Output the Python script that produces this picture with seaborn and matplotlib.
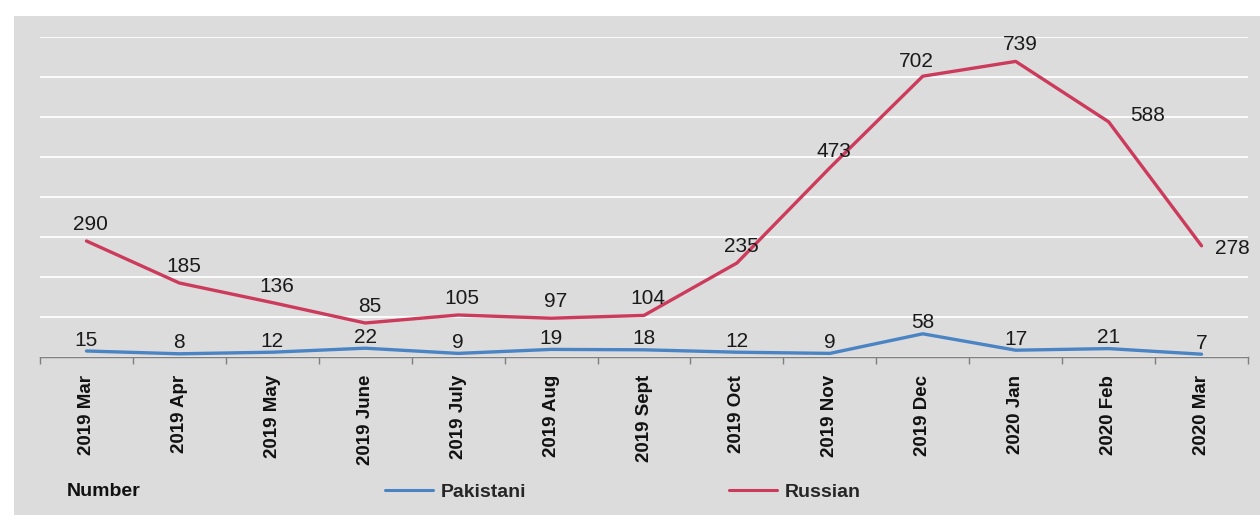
import matplotlib.pyplot as plt
import matplotlib.patches as mpatches
import seaborn as sns
import pandas as pd

# data
months = ['2019 Mar', '2019 Apr', '2019 May', '2019 June', '2019 July', '2019 Aug',
          '2019 Sept', '2019 Oct', '2019 Nov', '2019 Dec', '2020 Jan', '2020 Feb', '2020 Mar']
pakistani = [15, 8, 12, 22, 9, 19, 18, 12, 9, 58, 17, 21, 7]
russian = [290, 185, 136, 85, 105, 97, 104, 235, 473, 702, 739, 588, 278]

bg = '#dcdcdc'
colors = {'Pakistani': '#4a84c4', 'Russian': '#cc3a5c'}

df = pd.concat([
    pd.DataFrame({'month': months, 'value': pakistani, 'series': 'Pakistani'}),
    pd.DataFrame({'month': months, 'value': russian, 'series': 'Russian'}),
])

sns.set_theme(style='white')
plt.rcParams['font.family'] = ['Liberation Sans', 'DejaVu Sans']

fig = plt.figure(figsize=(12.6, 5.15), dpi=100, facecolor='white')
# gray panel behind everything
fig.patches.append(mpatches.Rectangle((14 / 1260, 0), 1, 1 - 16 / 515,
                                      transform=fig.transFigure, facecolor=bg,
                                      edgecolor='none', zorder=-10))
ax = fig.add_axes([40 / 1260, 1 - 357 / 515, (1248 - 40) / 1260, (357 - 37) / 515])
ax.set_facecolor(bg)

sns.lineplot(data=df, x='month', y='value', hue='series', palette=colors,
             linewidth=2.4, sort=False, ax=ax, legend=False)

ax.set_ylim(0, 800)
ax.set_xlim(-0.5, len(months) - 0.5)
ax.set_yticks(range(0, 801, 100))
ax.set_yticklabels([])
ax.grid(axis='y', color='white', linewidth=1.3)
ax.set_axisbelow(True)
for s in ['top', 'right', 'left']:
    ax.spines[s].set_visible(False)
ax.spines['bottom'].set_color('#7f7f7f')
ax.spines['bottom'].set_linewidth(1)

ax.set_xticks(range(len(months)))
ax.set_xticklabels(months, rotation=90, fontsize=13.5, fontweight='bold', color='#111111')
ax.set_xticks([i - 0.5 for i in range(len(months) + 1)], minor=True)
ax.tick_params(axis='x', which='major', length=0, pad=13)
ax.tick_params(axis='x', which='minor', length=5, color='#7f7f7f', direction='out', bottom=True)
ax.tick_params(axis='y', length=0)
ax.set_xlabel('')
ax.set_ylabel('')

# value labels
rus_offsets = {9: (-5, 4), 11: (28, -2), 12: (22, -9)}
for i, v in enumerate(russian):
    dx, dy = rus_offsets.get(i, (3, 5))
    ax.annotate(str(v), (i, v), xytext=(dx, dy), textcoords='offset points',
                ha='center', va='bottom', fontsize=15, color='#1a1a1a')
for i, v in enumerate(pakistani):
    ax.annotate(str(v), (i, v), xytext=(0, 1), textcoords='offset points',
                ha='center', va='bottom', fontsize=15, color='#1a1a1a')

# bottom legend
fig.text(67 / 1260, 1 - 492 / 515, 'Number', fontsize=14, fontweight='bold',
         va='center', ha='left', color='#111111')
handles = [plt.Line2D([], [], color=colors[k], linewidth=2.2) for k in ['Pakistani', 'Russian']]
fig.legend(handles, ['Pakistani', 'Russian'], loc='center left',
           bbox_to_anchor=(367 / 1260, 1 - 492 / 515), ncol=2, frameon=False,
           handlelength=2.5, columnspacing=10.4, handletextpad=0.4,
           prop={'weight': 'bold', 'size': 14})

fig.savefig('out.png', dpi=100, facecolor='white')
